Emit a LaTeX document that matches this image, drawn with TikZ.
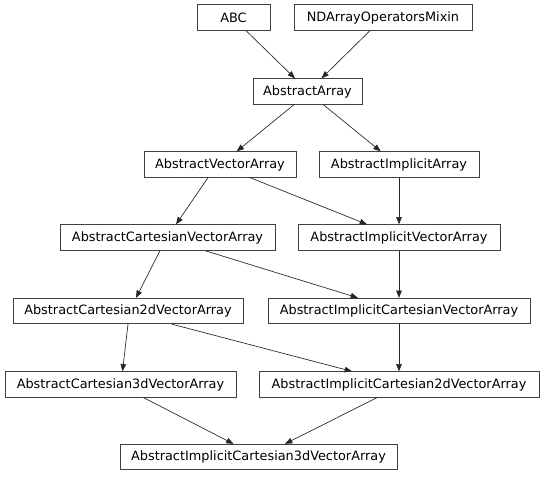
\documentclass[tikz,border=0pt]{standalone}
\usepackage{fontspec}
\setmainfont{DejaVu Sans}
\usetikzlibrary{arrows.meta}
\begin{document}
\begin{tikzpicture}[x=0.75pt,y=-0.75pt,
  cls/.style={draw=black!75,line width=0.6pt,fill=white,inner sep=0pt,
    minimum height=19.1pt,font=\fontsize{9.65}{11}\selectfont,text=black},
  arr/.style={draw=black!85,line width=0.5pt,-{Triangle[length=5.5pt,width=4.2pt]}}]
\useasboundingbox (0,0) rectangle (544,476);
\node[cls,minimum width=54.75pt] (abc) at (233.5,17.5) {ABC};
\node[cls,minimum width=133.5pt] (nda) at (383,17.5) {NDArrayOperatorsMixin};
\node[cls,minimum width=81.75pt] (aa) at (307.5,91.5) {AbstractArray};
\node[cls,minimum width=114pt] (ava) at (220,164.5) {AbstractVectorArray};
\node[cls,minimum width=120pt] (aia) at (399,164.5) {AbstractImplicitArray};
\node[cls,minimum width=161.25pt] (acva) at (167.5,237.5) {AbstractCartesianVectorArray};
\node[cls,minimum width=151.5pt] (aiva) at (399,237.5) {AbstractImplicitVectorArray};
\node[cls,minimum width=172.5pt] (c2d) at (128,311) {AbstractCartesian2dVectorArray};
\node[cls,minimum width=196.5pt] (icva) at (399,311) {AbstractImplicitCartesianVectorArray};
\node[cls,minimum width=173.25pt] (c3d) at (120.5,384.5) {AbstractCartesian3dVectorArray};
\node[cls,minimum width=210pt] (ic2d) at (399,384.5) {AbstractImplicitCartesian2dVectorArray};
\node[cls,minimum width=207.75pt] (ic3d) at (258.5,457) {AbstractImplicitCartesian3dVectorArray};

\draw[arr] ([xshift=9.4pt]abc.south) -- ([xshift=-9.4pt]aa.north);
\draw[arr] ([xshift=-9.75pt]nda.south) -- ([xshift=10.5pt]aa.north);
\draw[arr] ([xshift=-10.1pt]aa.south) -- ([xshift=12.5pt]ava.north);
\draw[arr] ([xshift=11.85pt]aa.south) -- ([xshift=-13.7pt]aia.north);
\draw[arr] ([xshift=-9pt]ava.south) -- ([xshift=6.4pt]acva.north);
\draw[arr] ([xshift=22.5pt]ava.south) -- ([xshift=-24pt]aiva.north);
\draw[arr] (aia.south) -- (aiva.north);
\draw[arr] ([xshift=-5.6pt]acva.south) -- ([xshift=6pt]c2d.north);
\draw[arr] ([xshift=28.1pt]acva.south) -- ([xshift=-30.75pt]icva.north);
\draw[arr] (aiva.south) -- (icva.north);
\draw[arr] (c2d.south) -- ([xshift=1.5pt]c3d.north);
\draw[arr] ([xshift=32.8pt]c2d.south) -- ([xshift=-35.25pt]ic2d.north);
\draw[arr] (icva.south) -- (ic2d.north);
\draw[arr] ([xshift=17.25pt]c3d.south) -- ([xshift=-18.75pt]ic3d.north);
\draw[arr] ([xshift=-16.5pt]ic2d.south) -- ([xshift=19.9pt]ic3d.north);
\end{tikzpicture}
\end{document}
